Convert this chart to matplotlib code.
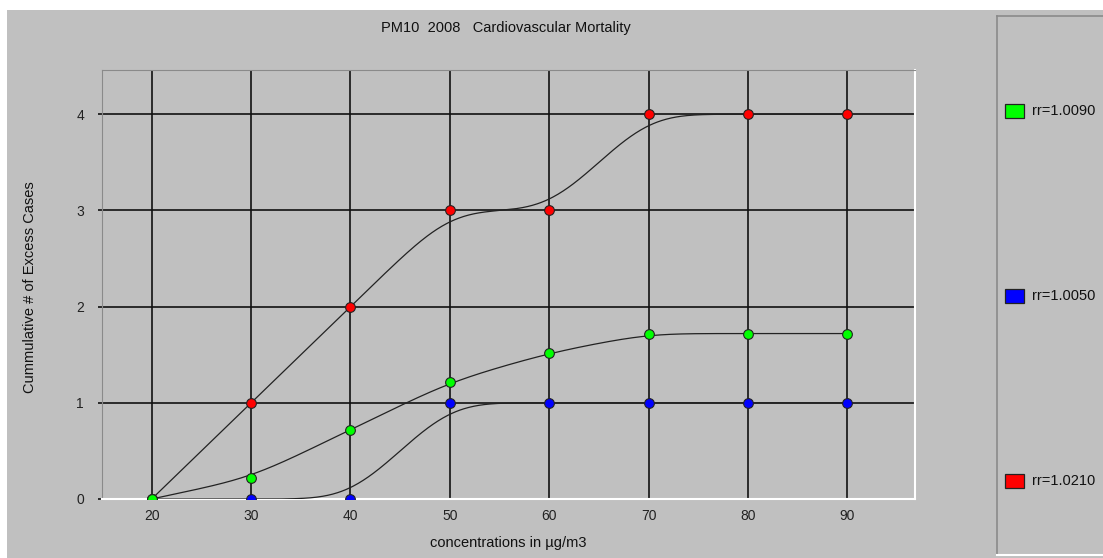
import numpy as np
import matplotlib
matplotlib.use("Agg")
import matplotlib.pyplot as plt
from matplotlib.patches import Rectangle
from matplotlib.lines import Line2D

plt.rcParams['font.family'] = ['Liberation Sans', 'DejaVu Sans']

conc = [20, 30, 40, 50, 60, 70, 80, 90]
cases_rr1009 = [0, 0.22, 0.72, 1.22, 1.52, 1.72, 1.72, 1.72]
cases_rr1005 = [0, 0, 0, 1, 1, 1, 1, 1]
cases_rr1021 = [0, 1, 2, 3, 3, 4, 4, 4]
series_labels = ["rr=1.0090", "rr=1.0050", "rr=1.0210"]
series_colors = ["#00ff00", "#0000ff", "#ff0000"]

W, H = 1103, 558
BG = "#c0c0c0"


def smooth_curve(x, y, sigma=3.0, step=0.1):
    # gaussian smoothing of the polyline, odd reflection at the left end
    xs = np.arange(x[0], x[-1] + step / 2, step)
    ys = np.interp(xs, x, y)
    n = int(4 * sigma / step)
    left = 2 * ys[0] - ys[1:n + 1][::-1]
    right = np.full(n, ys[-1])
    padded = np.concatenate([left, ys, right])
    k = np.arange(-n, n + 1) * step
    kern = np.exp(-0.5 * (k / sigma) ** 2)
    kern /= kern.sum()
    return xs, np.convolve(padded, kern, mode="valid")


fig = plt.figure(figsize=(W / 100, H / 100), dpi=100, facecolor="white")
fig.add_artist(Rectangle((7 / W, 0), 1, 1 - 10 / H, transform=fig.transFigure,
                         facecolor=BG, edgecolor="none", zorder=0))


def px(x0, y0, w, h):
    return [x0 / W, 1 - (y0 + h) / H, w / W, h / H]


ax = fig.add_axes(px(102, 70, 813, 429))
ax.set_facecolor(BG)
ax.set_xlim(15, 96.8)
ax.set_ylim(0, 4.46)
ax.set_xticks(conc)
ax.set_yticks([0, 1, 2, 3, 4])
ax.grid(True, color="#111111", linewidth=1.2)
ax.set_axisbelow(True)
ax.tick_params(axis="x", length=0, pad=7, labelsize=10, labelcolor="#222222")
ax.tick_params(axis="y", length=3, width=1.2, pad=10, labelsize=10,
               labelcolor="#222222", color="#111111")
for side in ["top", "left"]:
    ax.spines[side].set_color("#8a8a8a")
for side in ["bottom", "right"]:
    ax.spines[side].set_color("white")
    ax.spines[side].set_linewidth(1.5)

all_series = [cases_rr1021, cases_rr1005, cases_rr1009]
all_colors = [series_colors[2], series_colors[1], series_colors[0]]
for vals, col in zip(all_series, all_colors):
    xs, ys = smooth_curve(conc, vals)
    ax.plot(xs, ys, color="#222222", linewidth=0.9, zorder=3)
for vals, col in zip(all_series, all_colors):
    ax.plot(conc, vals, linestyle="none", marker="o", markersize=7,
            markerfacecolor=col, markeredgecolor="#222222", markeredgewidth=0.8,
            zorder=4)

fig.text(506 / W, 1 - 28 / H, "PM10  2008   Cardiovascular Mortality",
         ha="center", va="center", fontsize=10.5, color="#111111")
fig.text(508 / W, 1 - 543 / H, "concentrations in µg/m3",
         ha="center", va="center", fontsize=10.5, color="#111111")
fig.text(30 / W, 1 - 287 / H, "Cummulative # of Excess Cases", rotation=90,
         ha="center", va="center", fontsize=10.5, color="#111111")

# legend panel
lx0, ly0, ly1 = 997, 16, 555
fig.add_artist(Line2D([lx0 / W, lx0 / W], [1 - ly0 / H, 1 - ly1 / H],
                      transform=fig.transFigure, color="#8a8a8a", linewidth=1.2))
fig.add_artist(Line2D([lx0 / W, 1], [1 - ly0 / H, 1 - ly0 / H],
                      transform=fig.transFigure, color="#8a8a8a", linewidth=1.2))
fig.add_artist(Line2D([lx0 / W, 1], [1 - ly1 / H, 1 - ly1 / H],
                      transform=fig.transFigure, color="white", linewidth=1.5))
leg_y = [111, 296, 481]
for lab, col, yy in zip(series_labels, series_colors, leg_y):
    fig.add_artist(Rectangle((1005 / W, 1 - (yy + 7) / H), 19 / W, 14 / H,
                             transform=fig.transFigure, facecolor=col,
                             edgecolor="#222222", linewidth=0.9))
    fig.text(1032 / W, 1 - yy / H, lab, ha="left", va="center",
             fontsize=10.5, color="#111111")

fig.savefig("out.png", dpi=100, facecolor=fig.get_facecolor())
